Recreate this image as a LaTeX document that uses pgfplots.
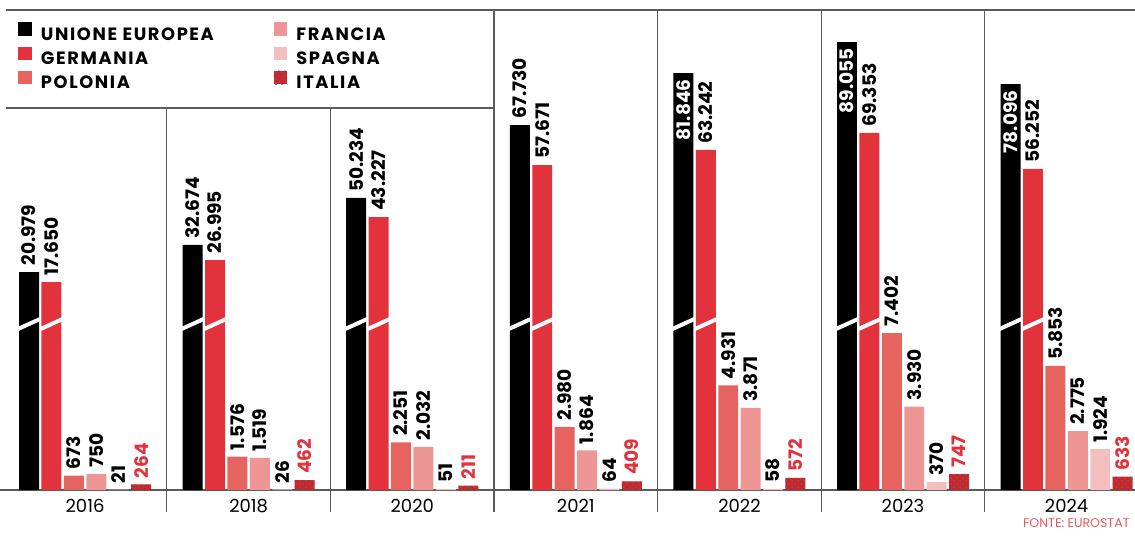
\documentclass[border=0pt]{standalone}
\usepackage{fontspec}
\setmainfont{Poppins}
\usepackage{pgfplots}
\pgfplotsset{compat=1.18}
\usetikzlibrary{patterns}

\definecolor{gered}{RGB}{226,50,60}
\definecolor{plred}{RGB}{229,100,96}
\definecolor{frpink}{RGB}{238,150,150}
\definecolor{espink}{RGB}{243,190,190}
\definecolor{itred}{RGB}{205,35,42}
\definecolor{linegray}{RGB}{90,90,90}
\definecolor{fontered}{RGB}{232,90,90}

\begin{document}
\begin{tikzpicture}
\begin{axis}[
  scale only axis,
  width=567.5pt, height=240pt,
  xmin=-0.52, xmax=6.418,
  ymin=0, ymax=22642,
  clip=false,
  axis x line=bottom,
  axis y line=none,
  x axis line style={-, draw=linegray, line width=0.6pt},
  xtick={0,...,6},
  xticklabels={2016,2018,2020,2021,2022,2023,2024},
  major tick length=0pt,
  xticklabel style={font=\fontsize{9}{9}\selectfont, yshift=-1pt},
  ybar, bar width=0.122,
  point meta=explicit symbolic,
  nodes near coords,
  every node near coord/.append style={rotate=90, anchor=west, inner sep=3pt,
    font=\bfseries\fontsize{9.3}{10}\selectfont, text=black},
  legend image code/.code={\fill[#1] (0pt,-0.2pt) rectangle (6.8pt,6.6pt);},
  legend columns=3, transpose legend,
  legend cell align=left,
  legend style={at={(rel axis cs:0,1)}, anchor=north west, xshift=9pt, yshift=-6pt,
    draw=none, fill=none, inner sep=0pt,
    nodes={inner sep=0pt, font=\bfseries\fontsize{8.9}{9}\selectfont\addfontfeatures{LetterSpace=9}},
    row sep=1.6pt,
    /tikz/every odd column/.append style={column sep=4.5pt},
    /tikz/column 2/.append style={column sep=30pt}},
]
% Unione Europea (altezze con asse spezzato)
\addplot[fill=black, draw=none, bar shift=-0.3425] coordinates {
  (0,10283) [20.979] (1,11557) [32.674] (2,13774) [50.234] (3,17217) [67.730]};
\addlegendentry{UNIONE EUROPEA}
\addplot[fill=black, draw=none, bar shift=-0.3425, forget plot,
  every node near coord/.append style={anchor=east, text=white}] coordinates {
  (4,19670) [81.846] (5,21132) [89.055] (6,19151) [78.096]};
% Germania
\addplot[fill=gered, draw=none, bar shift=-0.2055] coordinates {
  (0,9811) [17.650] (1,10849) [26.995] (2,12877) [43.227] (3,15330) [57.671]
  (4,16038) [63.242] (5,16840) [69.353] (6,15142) [56.252]};
\addlegendentry{GERMANIA}
% Polonia
\addplot[fill=plred, draw=none, bar shift=-0.0685] coordinates {
  (0,673) [673] (1,1576) [1.576] (2,2251) [2.251] (3,2980) [2.980]
  (4,4931) [4.931] (5,7402) [7.402] (6,5853) [5.853]};
\addlegendentry{POLONIA}
% Francia
\addplot[fill=frpink, draw=none, bar shift=0.0685] coordinates {
  (0,750) [750] (1,1519) [1.519] (2,2032) [2.032] (3,1864) [1.864]
  (4,3871) [3.871] (5,3930) [3.930] (6,2775) [2.775]};
\addlegendentry{FRANCIA}
% Spagna
\addplot[fill=espink, draw=none, bar shift=0.2055] coordinates {
  (0,21) [21] (1,26) [26] (2,51) [51] (3,64) [64]
  (4,58) [58] (5,370) [370] (6,1924) [1.924]};
\addlegendentry{SPAGNA}
% Italia
\addplot[fill=itred, draw=none, bar shift=0.3425,
  postaction={pattern=crosshatch dots, pattern color=black!60},
  every node near coord/.append style={text=gered}] coordinates {
  (0,264) [264] (1,462) [462] (2,211) [211] (3,409) [409]
  (4,572) [572] (5,747) [747] (6,633) [633]};
\addlegendentry{ITALIA}

% interruzione delle barre alte
\pgfplotsinvokeforeach{0,...,6}{
  \draw[white, line width=2pt] (axis cs:#1-0.41,7594) -- (axis cs:#1-0.275,8066);
  \draw[white, line width=2pt] (axis cs:#1-0.272,7594) -- (axis cs:#1-0.137,8066);
}
% cornici
\draw[linegray, line width=0.6pt] (axis cs:-0.483,22642) -- (axis cs:6.418,22642);
\draw[linegray, line width=0.6pt] (axis cs:-0.483,18019) -- (axis cs:2.5,18019);
\pgfplotsinvokeforeach{0.5,1.5}{
  \draw[linegray, line width=0.6pt] ([yshift=-11pt]axis cs:#1,0) -- (axis cs:#1,18019);
}
\pgfplotsinvokeforeach{2.5,3.5,4.5,5.5}{
  \draw[linegray, line width=0.6pt] ([yshift=-11pt]axis cs:#1,0) -- (axis cs:#1,22642);
}
\node[anchor=east, text=fontered, font=\fontsize{6.3}{6.5}\selectfont, inner sep=0pt]
  at ([xshift=-2.5pt, yshift=-16.5pt]rel axis cs:1,0) {FONTE: EUROSTAT};
\end{axis}
\pgfresetboundingbox
\path[use as bounding box] (0pt,-25.5pt) rectangle (567.5pt,245pt);
\end{tikzpicture}
\end{document}
